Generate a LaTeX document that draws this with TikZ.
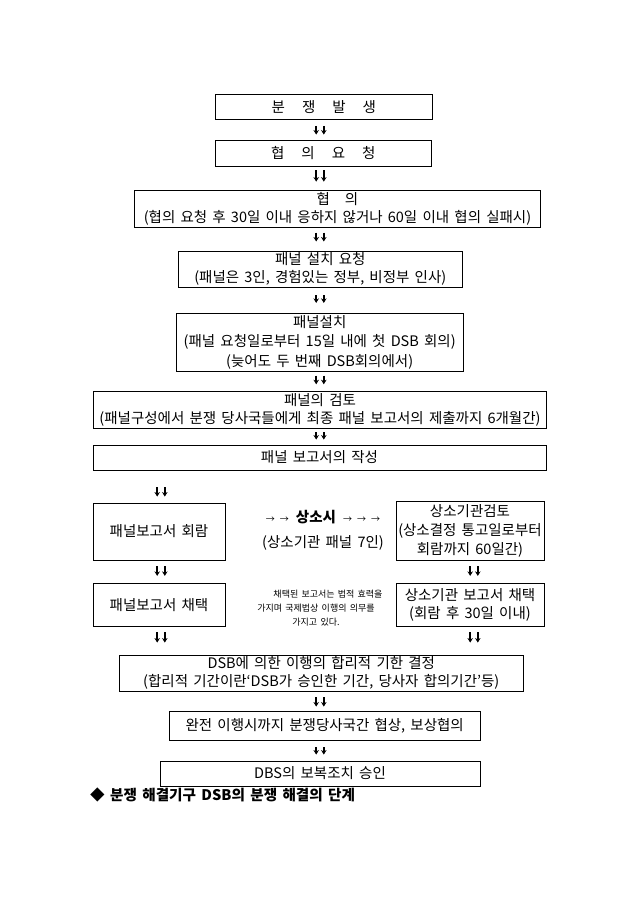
\documentclass[tikz,border=0pt]{standalone}
\usepackage{fontspec}
\setmainfont{Noto Sans CJK KR}[WordSpace=1.6]
\usetikzlibrary{arrows.meta, positioning}

\begin{document}
\begin{tikzpicture}[
    x=1pt, y=-1pt,
    box/.style={draw, line width=0.9pt, align=center, inner xsep=0pt, inner ysep=0pt, font=\fontsize{14.5}{18}\selectfont},
    arrow/.style={-{Stealth[length=4.5pt, width=5.5pt]}, line width=1.6pt},
    note/.style={align=center, inner sep=0pt, font=\fontsize{9}{14}\selectfont}
]
    \useasboundingbox (0,0) rectangle (640,905);

    % Main column
    \node[box, minimum width=217.7pt, minimum height=25pt] (dispute) at (323.9,106.8) {분\hspace{17pt}쟁\hspace{17pt}발\hspace{17pt}생};
    \node[box, minimum width=216.7pt, minimum height=26pt] (request) at (323.3,153) {협\hspace{17pt}의\hspace{17pt}요\hspace{17pt}청};
    \node[box, minimum width=406.4pt, minimum height=37.7pt] (consult) at (337.5,208.9) {협\hspace{15pt}의\hspace{18pt}\\(협의 요청 후 30일 이내 응하지 않거나 60일 이내 협의 실패시)};
    \node[box, minimum width=284pt, minimum height=36.7pt] (panelreq) at (320.3,269.3) {패널 설치 요청\\(패널은 3인, 경험있는 정부, 비정부 인사)};
    \node[box, minimum width=287.3pt, minimum height=57.7pt] (panelset) at (319.7,342.2) {패널설치\\[1.5pt](패널 요청일로부터 15일 내에 첫 DSB 회의)\\[1.5pt](늦어도 두 번째 DSB회의에서)};
    \node[box, minimum width=453.4pt, minimum height=36.6pt] (review) at (320,410) {패널의 검토\\(패널구성에서 분쟁 당사국들에게 최종 패널 보고서의 제출까지 6개월간)};
    \node[box, minimum width=453pt, minimum height=25pt] (draft) at (319.5,457.5) {패널 보고서의 작성};

    % Panel side and appeal side
    \node[box, minimum width=132pt, minimum height=57pt] (circ) at (159,531.5) {패널보고서 회람};
    \node[box, minimum width=132pt, minimum height=43.4pt] (adopt) at (159,605) {패널보고서 채택};
    \node[align=center, inner sep=0pt, font=\fontsize{14.5}{25}\selectfont] (appeal) at (323,530.5)
        {{\fontsize{9}{9}\selectfont →\hspace{5pt}→}\hspace{7pt}\textbf{상소시}\hspace{7pt}{\fontsize{9}{9}\selectfont →\hspace{5pt}→\hspace{5pt}→}\\(상소기관 패널 7인)};
    \node[note] (effect) at (316,608) {\hspace{24pt}채택된 보고서는 법적 효력을\\가지며 국제법상 이행의 의무를\\가지고 있다.};
    \node[box, minimum width=148pt, minimum height=59pt] (abreview) at (470,530.5) {상소기관검토\\[1pt](상소결정 통고일로부터\\[1pt]회람까지 60일간)};
    \node[box, minimum width=148pt, minimum height=43.4pt] (abadopt) at (470,605) {상소기관 보고서 채택\\(회람 후 30일 이내)};

    % Implementation
    \node[box, minimum width=404pt, minimum height=36pt] (deadline) at (321.3,673) {DSB에 의한 이행의 합리적 기한 결정\\(합리적 기간이란‘DSB가 승인한 기간, 당사자 합의기간’등)};
    \node[box, minimum width=310.7pt, minimum height=29pt] (negot) at (324.7,725.5) {완전 이행시까지 분쟁당사국간 협상, 보상협의};
    \node[box, minimum width=320pt, minimum height=25pt] (retal) at (320,773.5) {DBS의 보복조치 승인};

    \node[anchor=west, inner sep=0pt, font=\fontsize{14.6}{16}\selectfont\bfseries] (caption) at (90,795) {◆ 분쟁 해결기구 DSB의 분쟁 해결의 단계};

    % Arrows
    \coordinate (axis) at (320,0);
    \coordinate (lcol) at (161,0);
    \coordinate (rcol) at (474,0);
    \foreach \col/\up/\dn/\s/\e in {axis/dispute/request/6/5, axis/request/consult/4/8, axis/consult/panelreq/4.5/9,
        axis/panelreq/panelset/7/10, axis/panelset/review/4/7, axis/review/draft/3.5/5,
        lcol/draft/circ/17/6, lcol/circ/adopt/6/7, lcol/adopt/deadline/5/12,
        rcol/abreview/abadopt/6/7, rcol/abadopt/deadline/5/12,
        axis/deadline/negot/6/4, axis/negot/retal/7/6}
        \foreach \dx in {-3.8,3.8}
            \draw[arrow, shorten <=\s pt, shorten >=\e pt] ([xshift=\dx pt]\col |- \up.south) -- ([xshift=\dx pt]\col |- \dn.north);
\end{tikzpicture}
\end{document}
